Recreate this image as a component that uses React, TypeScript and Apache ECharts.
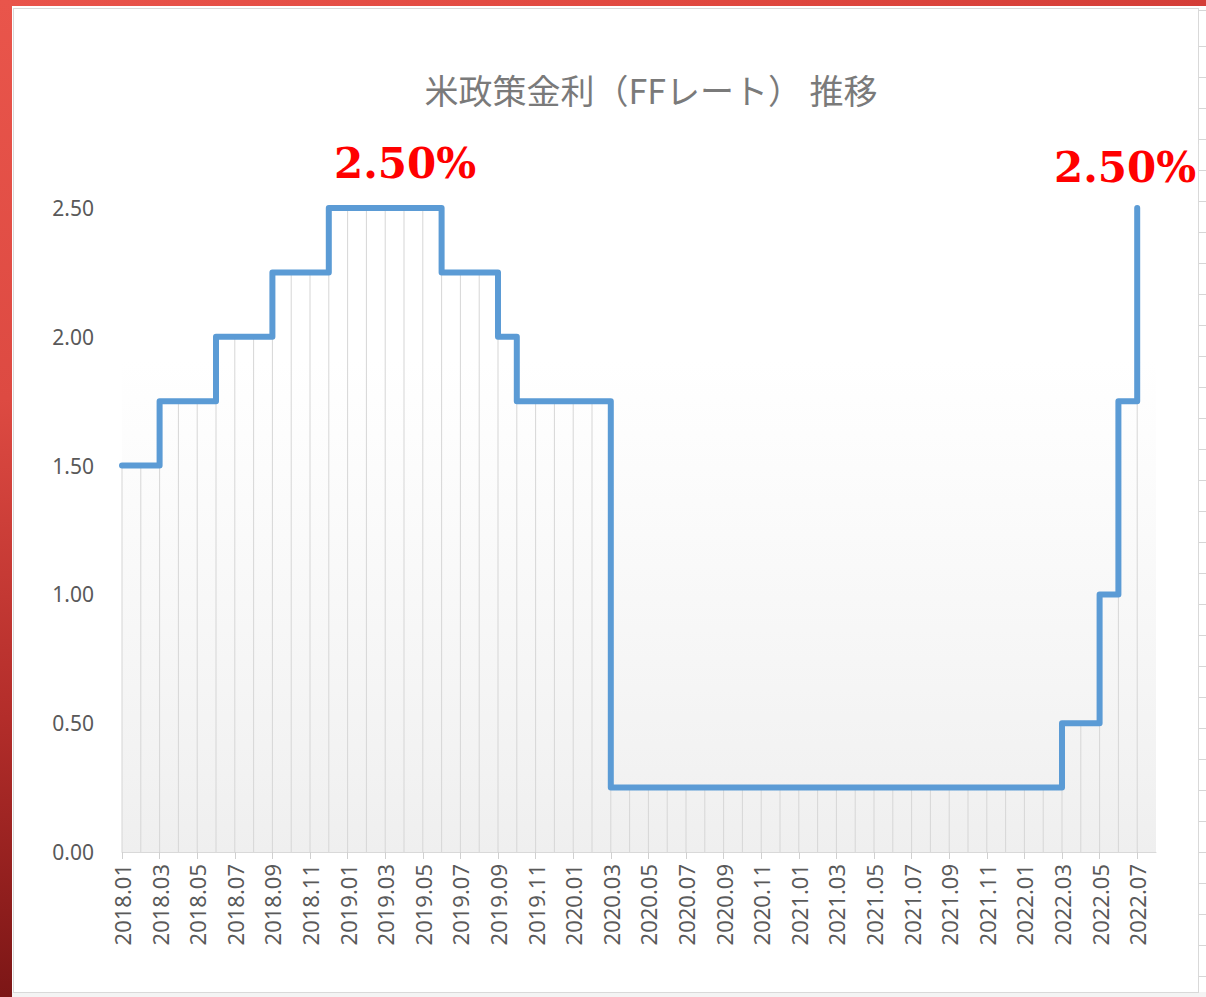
import React, { useEffect, useRef } from "react";
import * as echarts from "echarts";

const categories = [
  "2018.01", "2018.02", "2018.03", "2018.04", "2018.05", "2018.06", "2018.07", "2018.08", "2018.09", "2018.10", "2018.11", "2018.12",
  "2019.01", "2019.02", "2019.03", "2019.04", "2019.05", "2019.06", "2019.07", "2019.08", "2019.09", "2019.10", "2019.11", "2019.12",
  "2020.01", "2020.02", "2020.03", "2020.04", "2020.05", "2020.06", "2020.07", "2020.08", "2020.09", "2020.10", "2020.11", "2020.12",
  "2021.01", "2021.02", "2021.03", "2021.04", "2021.05", "2021.06", "2021.07", "2021.08", "2021.09", "2021.10", "2021.11", "2021.12",
  "2022.01", "2022.02", "2022.03", "2022.04", "2022.05", "2022.06", "2022.07", "2022.08",
];

const rates2018 = [1.5, 1.5, 1.75, 1.75, 1.75, 2.0, 2.0, 2.0, 2.25, 2.25, 2.25, 2.5];
const rates2019 = [2.5, 2.5, 2.5, 2.5, 2.5, 2.25, 2.25, 2.25, 2.0, 1.75, 1.75, 1.75];
const rates2020 = [1.75, 1.75, 0.25, 0.25, 0.25, 0.25, 0.25, 0.25, 0.25, 0.25, 0.25, 0.25];
const rates2021 = [0.25, 0.25, 0.25, 0.25, 0.25, 0.25, 0.25, 0.25, 0.25, 0.25, 0.25, 0.25];
const rates2022 = [0.25, 0.25, 0.5, 0.5, 1.0, 1.75, 2.5];

const yTicks = [0, 0.5, 1.0, 1.5, 2.0, 2.5];

const titleText = "米政策金利（FFレート） 推移";
const peakLabel = "2.50%";

export default function App() {
  const ref = useRef<HTMLDivElement>(null);

  useEffect(() => {
    if (!ref.current) return;
    const chart = echarts.init(ref.current, undefined, { renderer: "svg" });
    const values = [...rates2018, ...rates2019, ...rates2020, ...rates2021, ...rates2022];

    const option: any = {
      animation: false,
      grid: { left: 122, right: 50, top: 208, bottom: 145 },
      xAxis: {
        type: "category",
        data: categories,
        boundaryGap: false,
        axisLine: { show: true, lineStyle: { color: "#d9d9d9", width: 1 } },
        axisTick: { show: true, interval: 1, length: 7, lineStyle: { color: "#d0d0d0" } },
        axisLabel: {
          interval: 1,
          rotate: 90,
          margin: 12,
          color: "#595959",
          fontSize: 22,
          fontFamily: "Noto Sans",
        },
        splitLine: { show: false },
      },
      yAxis: {
        type: "value",
        min: yTicks[0],
        max: yTicks[yTicks.length - 1],
        interval: 0.5,
        axisLine: { show: false },
        axisTick: { show: false },
        splitLine: { show: false },
        axisLabel: {
          margin: 28,
          color: "#595959",
          fontSize: 21,
          fontFamily: "Noto Sans",
          formatter: (v: number) => v.toFixed(2),
        },
      },
      series: [
        {
          type: "bar",
          data: values,
          barWidth: 1,
          itemStyle: { color: "#d6d6d6" },
          z: 1,
          silent: true,
          markArea: {
            silent: true,
            itemStyle: {
              color: new echarts.graphic.LinearGradient(0, 0, 0, 1, [
                { offset: 0, color: "rgba(242,242,242,0)" },
                { offset: 1, color: "#efefef" },
              ]),
            },
            data: [[{ yAxis: 0 }, { yAxis: 1.91 }]],
          },
        },
        {
          type: "line",
          data: values,
          step: "end",
          showSymbol: false,
          symbol: "none",
          z: 3,
          lineStyle: { color: "#5b9bd5", width: 6, cap: "round", join: "round" },
        },
      ],
      graphic: [
        {
          type: "text",
          x: 651,
          y: 89,
          style: {
            text: titleText,
            fill: "#7a7a7a",
            fontSize: 34,
            fontFamily: "Noto Sans CJK JP",
            textAlign: "center",
            textVerticalAlign: "middle",
          },
        },
        {
          type: "text",
          x: 405,
          y: 163,
          style: {
            text: peakLabel,
            fill: "#ff0000",
            fontSize: 42,
            fontWeight: "bold",
            fontFamily: "DejaVu Serif",
            textAlign: "center",
            textVerticalAlign: "middle",
          },
        },
        {
          type: "text",
          x: 1124,
          y: 167,
          z: 10,
          style: {
            text: peakLabel,
            fill: "#ff0000",
            fontSize: 42,
            fontWeight: "bold",
            fontFamily: "DejaVu Serif",
            textAlign: "center",
            textVerticalAlign: "middle",
            backgroundColor: "#ffffff",
            padding: [2, 2, 2, 4],
          },
        },
      ],
    };
    chart.setOption(option);
    return () => chart.dispose();
  }, []);

  return (
    <div style={{ position: "fixed", left: 0, top: 0, width: 1206, height: 997, background: "#ffffff", overflow: "hidden" }}>
      <div
        style={{
          position: "absolute", left: 1198, top: 0, width: 8, height: 997,
          backgroundImage: "repeating-linear-gradient(to bottom, #ffffff 0px, #ffffff 30px, #d6d6d6 30px, #d6d6d6 31px)",
          backgroundPosition: "0 16px",
        }}
      />
      <div style={{ position: "absolute", left: 0, top: 992, width: 1206, height: 5, background: "#f4f4f4" }} />
      <div
        style={{
          position: "absolute", left: 13, top: 8, width: 1184, height: 983,
          background: "#ffffff", border: "1px solid #d9d9d9",
        }}
      />
      <div
        style={{
          position: "absolute", left: 0, top: 0, width: 1206, height: 6,
          background: "linear-gradient(to right, #e9544b, #e0483f 60%, #d43e38)",
        }}
      />
      <div
        style={{
          position: "absolute", left: 0, top: 0, width: 12, height: 997,
          background: "linear-gradient(to bottom, #e9554b 0%, #dd4a42 40%, #b32d2a 72%, #7c1616 100%)",
        }}
      />
      <div ref={ref} style={{ position: "absolute", left: 0, top: 0, width: 1206, height: 997 }} />
    </div>
  );
}
